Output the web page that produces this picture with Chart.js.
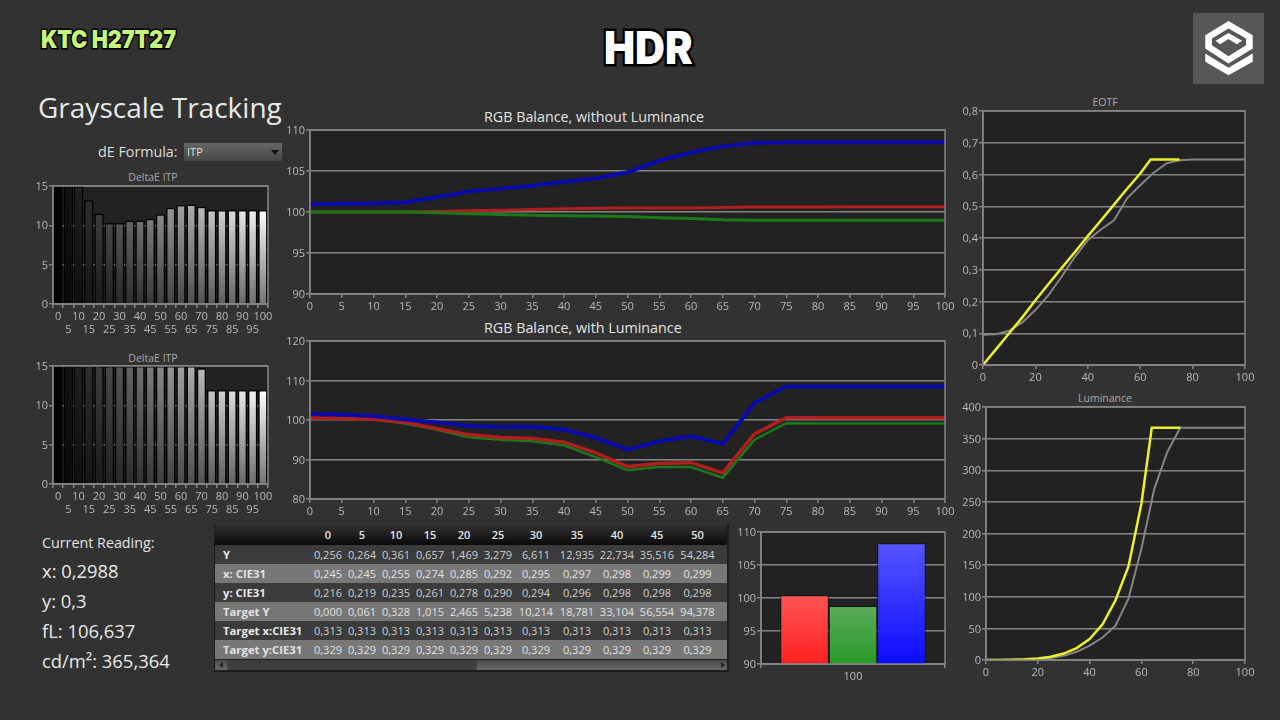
<!DOCTYPE html>
<html>
<head>
<meta charset="utf-8">
<script src="https://cdn.jsdelivr.net/npm/chart.js@4"></script>
<style>
  html, body { margin: 0; padding: 0; }
  body { width: 1280px; height: 720px; background: #323232; overflow: hidden; position: relative;
         font-family: "Open Sans", sans-serif; color: #ddd; }
  canvas, .txt, .box { position: absolute; }
  .txt { white-space: nowrap; line-height: 1; }
  .ctitle { color: #aaa; font-size: 10.5px; transform: translateX(-50%); }
  .rtitle { color: #e4e4e4; font-size: 14.3px; left: 484px; }
  .reading { color: #e8e8e8; font-size: 18.4px; left: 42px; }
  #select { left: 184px; top: 143px; width: 98px; height: 18px; background: linear-gradient(#666, #474747); }
  #select span { position: absolute; left: 3px; top: 3px; font-size: 11px; color: #ddd; line-height: 1.1; }
  #select i { position: absolute; right: 3px; top: 7px; border: 4px solid transparent; border-top: 5px solid #111; border-bottom: 0; }
  #tableWrap { left: 214px; top: 524px; width: 515px; height: 148px; background: #1d1d1d; overflow: hidden; }
  table { border-collapse: collapse; table-layout: fixed; width: 512px; margin-left: 1px; font-size: 11px; }
  th { height: 21px; padding: 0; font-weight: 600; color: #e4e4e4; background: linear-gradient(#333, #0a0a0a); }
  td { height: 19px; padding: 0; text-align: center; color: #d0d0d0; }
  td:first-child { text-align: left; padding-left: 8px; font-weight: 700; font-size: 11.3px; color: #e8e8e8; }
  tr.a td { background: #3b3b3b; }
  tr.b td { background: #777; color: #e2e2e2; }
  #track { left: 215px; top: 660px; width: 512px; height: 10px; background: linear-gradient(#4c4c4c, #686868); }
  #thumb { left: 227px; top: 660px; width: 250px; height: 10px; background: #3e3e3e; border-radius: 3px; }
  .arrow { top: 662px; border: 3px solid transparent; }
</style>
</head>
<body>

<div class="txt" id="model" style="left:41px;top:24px;font:900 25px Inter;color:#c6f57a;-webkit-text-stroke:3px #000;paint-order:stroke fill;transform:scaleX(.86);transform-origin:left">KTC H27T27</div>
<div class="txt" id="mode" style="left:604px;top:20px;font:900 45px Inter;color:#fff;-webkit-text-stroke:5px #000;paint-order:stroke fill;transform:scaleX(.92);transform-origin:left">HDR</div>

<svg class="box" style="left:1193px;top:13px" width="71" height="71" viewBox="38 38 214 214">
  <rect x="38" y="38" width="214" height="214" fill="#575757"/>
  <path d="M145 62 L218 105 V145 L145 190 L75 145 V105 Z" fill="#fff"/>
  <path d="M145 85 L198 115 V135 L145 168 L95 135 V115 Z" fill="#575757"/>
  <path d="M145 98 L186 122 L170 132 L145 116 L120 132 L106 122 Z" fill="#fff"/>
  <path d="M75 160 L145 203 L218 160 V185 L145 226 L75 185 Z" fill="#fff"/>
</svg>

<div class="txt" style="left:38px;top:93px;font-size:28px;color:#e8e8e8">Grayscale Tracking</div>
<div class="txt" style="left:98px;top:145px;font-size:14.3px;color:#ddd">dE Formula:</div>
<div class="box" id="select"><span>ITP</span><i></i></div>

<div class="txt ctitle" style="left:153px;top:172px">DeltaE ITP</div>
<div class="txt ctitle" style="left:153px;top:353px">DeltaE ITP</div>
<div class="txt rtitle" style="top:110px">RGB Balance, without Luminance</div>
<div class="txt rtitle" style="top:321px">RGB Balance, with Luminance</div>
<div class="txt ctitle" style="left:1105px;top:97px">EOTF</div>
<div class="txt ctitle" style="left:1105px;top:393px">Luminance</div>

<div class="txt" style="left:42px;top:536px;font-size:14.3px;color:#e4e4e4">Current Reading:</div>
<div class="txt reading" style="top:562px">x: 0,2988</div>
<div class="txt reading" style="top:592px">y: 0,3</div>
<div class="txt reading" style="top:622px">fL: 106,637</div>
<div class="txt reading" style="top:652px">cd/m²: 365,364</div>

<div class="box" id="tableWrap"><table id="table"></table></div>
<div class="box" id="track"></div>
<div class="box" id="thumb"></div>
<div class="box arrow" style="left:216px;border-right:4px solid #222"></div>
<div class="box arrow" style="left:721px;border-left:4px solid #222"></div>

<canvas id="delta1"></canvas>
<canvas id="delta2"></canvas>
<canvas id="rgb1"></canvas>
<canvas id="rgb2"></canvas>
<canvas id="eotf"></canvas>
<canvas id="lum"></canvas>
<canvas id="bar"></canvas>

<script>
const stim = [0, 5, 10, 15, 20, 25, 30, 35, 40, 45, 50, 55, 60, 65, 70, 75, 80, 85, 90, 95, 100];

// delta E bars, first ones run off the top of the axis
const deltaA = [15, 15, 15, 13.2, 11.5, 10.3, 10.3, 10.6, 10.6, 10.85, 11.4, 12.25, 12.6, 12.65, 12.35, 11.95, 11.95, 11.95, 11.95, 11.95, 11.95];
const deltaB = [15, 15, 15, 15, 15, 15, 15, 15, 15, 15, 15, 15, 15, 15, 14.7, 11.95, 11.95, 11.95, 11.95, 11.95, 11.95];

const noLumRed = [100, 100, 100, 100, 100.05, 100.15, 100.2, 100.3, 100.4, 100.45, 100.5, 100.5, 100.5, 100.55, 100.6, 100.6, 100.6, 100.65, 100.65, 100.65, 100.65];
const noLumGreen = [100, 100, 100, 100, 99.9, 99.8, 99.7, 99.6, 99.55, 99.5, 99.45, 99.3, 99.2, 99.05, 99, 99, 99, 99, 99, 99, 99];
const noLumBlue = [100.93, 101, 101.05, 101.2, 101.8, 102.5, 102.85, 103.2, 103.7, 104.1, 104.85, 106.25, 107.25, 108, 108.45, 108.5, 108.5, 108.5, 108.5, 108.5, 108.5];

const lumRed = [100.5, 100.4, 100.2, 99.4, 97.8, 96.3, 95.6, 95.3, 94.4, 91.7, 88.2, 89, 89.2, 86.6, 96.5, 100.6, 100.6, 100.6, 100.6, 100.6, 100.6];
const lumGreen = [100.4, 100.3, 100.1, 99.1, 97.5, 95.6, 95, 94.6, 93.6, 90.6, 87.3, 88.1, 88.1, 85.4, 95, 99.2, 99.1, 99.1, 99.1, 99.1, 99.1];
const lumBlue = [101.5, 101.4, 101, 100.1, 99.4, 98.5, 98.2, 98.3, 97.6, 95.5, 92.5, 94.6, 95.9, 94, 104.3, 108.5, 108.5, 108.5, 108.5, 108.5, 108.5];

const targetStim = [0, 5, 10, 15, 20, 25, 30, 35, 40, 45, 50, 55, 60, 64, 75];
const eotfTarget = [0, 0.05, 0.1, 0.15, 0.204, 0.255, 0.305, 0.355, 0.406, 0.455, 0.505, 0.555, 0.603, 0.647, 0.647];
const eotfMeasured = [0.095, 0.097, 0.108, 0.134, 0.173, 0.22, 0.278, 0.34, 0.393, 0.427, 0.456, 0.525, 0.566, 0.605, 0.635, 0.645, 0.647, 0.647, 0.647, 0.647, 0.647];

const lumTarget = [0, 0.061, 0.328, 1.015, 2.465, 5.238, 10.214, 18.781, 33.104, 56.554, 94.378, 148, 247, 367, 367];
const lumMeasured = [0.256, 0.264, 0.361, 0.657, 1.469, 3.279, 6.611, 12.935, 22.734, 35.516, 54.284, 97, 176, 271, 329, 367, 367, 367, 367, 367, 367];

const lastRed = [100.4];
const lastGreen = [98.8];
const lastBlue = [108.3];

const tableCols = ['0', '5', '10', '15', '20', '25', '30', '35', '40', '45', '50'];
const tableColWidths = [96, 34, 34, 34, 34, 34, 34, 42, 40, 40, 40, 41, 9];
const rowY = ['0,256', '0,264', '0,361', '0,657', '1,469', '3,279', '6,611', '12,935', '22,734', '35,516', '54,284'];
const rowX = ['0,245', '0,245', '0,255', '0,274', '0,285', '0,292', '0,295', '0,297', '0,298', '0,299', '0,299'];
const rowYc = ['0,216', '0,219', '0,235', '0,261', '0,278', '0,290', '0,294', '0,296', '0,298', '0,298', '0,298'];
const rowTargetY = ['0,000', '0,061', '0,328', '1,015', '2,465', '5,238', '10,214', '18,781', '33,104', '56,554', '94,378'];
const rowTargetX = ['0,313', '0,313', '0,313', '0,313', '0,313', '0,313', '0,313', '0,313', '0,313', '0,313', '0,313'];
const rowTargetYc = ['0,329', '0,329', '0,329', '0,329', '0,329', '0,329', '0,329', '0,329', '0,329', '0,329', '0,329'];

const TICK = '#b9b9b9';
const GRID = '#858585';
const RED = '#b01f1f';
const GREEN = '#1a7a1a';
const BLUE = '#0a0aa8';
const YELLOW = '#eaf02c';
const GREY = '#858585';

Chart.defaults.font.family = '"Open Sans", sans-serif';
Chart.defaults.font.size = 11;
Chart.defaults.color = TICK;
Chart.defaults.animation = false;
Chart.defaults.plugins.legend.display = false;
Chart.defaults.plugins.tooltip.enabled = false;

const M = { left: 40, top: 8, right: 16, bottom: 38 };

const frame = {
  id: 'frame',
  beforeDraw(chart) {
    const { ctx, chartArea: a } = chart;
    ctx.fillStyle = '#222';
    ctx.fillRect(a.left, a.top, a.width, a.height);
  },
  afterDraw(chart) {
    const { ctx, chartArea: a } = chart;
    ctx.strokeStyle = GRID;
    ctx.lineWidth = 1.5;
    ctx.strokeRect(a.left, a.top, a.width, a.height);
  }
};

const pts = (xs, ys) => xs.map((x, i) => ({ x, y: ys[i] }));
const comma = v => String(v).replace('.', ',');

const yAxis = (min, max, step) => ({
  min, max,
  afterFit: s => { s.width = M.left; },
  ticks: { stepSize: step, padding: 1, labelOffset: 1, callback: comma },
  grid: { color: GRID, lineWidth: 1.5, tickLength: 4, tickColor: GRID },
  border: { color: GRID, width: 1.5 }
});

const xLinear = step => ({
  type: 'linear',
  min: 0, max: 100,
  afterFit: s => { s.height = M.bottom; },
  ticks: { stepSize: step, autoSkip: false, maxRotation: 0, padding: 2 },
  grid: { drawOnChartArea: false, color: GRID, lineWidth: 1.5, tickLength: 4 },
  border: { color: GRID, width: 1.5 }
});

function place(id, x, y, w, h) {
  const c = document.getElementById(id);
  c.width = w + M.left + M.right;
  c.height = h + M.top + M.bottom;
  c.style.left = (x - M.left) + 'px';
  c.style.top = (y - M.top) + 'px';
  return c;
}

const opts = scales => ({
  responsive: false,
  layout: { padding: { top: M.top, right: M.right } },
  scales
});

// first dataset ends up on top
function lineChart(id, rect, datasets, xStep, yMin, yMax, yStep) {
  new Chart(place(id, ...rect), {
    type: 'line',
    data: {
      datasets: datasets.map(d => ({
        data: pts(d.xs, d.ys),
        borderColor: d.color,
        borderWidth: d.width,
        pointRadius: 0,
        tension: 0
      }))
    },
    options: opts({ x: xLinear(xStep), y: yAxis(yMin, yMax, yStep) }),
    plugins: [frame]
  });
}

// grey ramp bars, brighter towards the top of each bar
function greyFill(ctx) {
  const { chart, dataIndex: i } = ctx;
  if (!chart.chartArea || !ctx.parsed) return '#000';
  const y = chart.scales.y;
  const top = Math.round(255 * Math.pow(i / 20, 0.9));
  const bottom = Math.round(top * 0.45);
  const g = chart.ctx.createLinearGradient(0, y.getPixelForValue(ctx.parsed.y), 0, y.bottom);
  g.addColorStop(0, `rgb(${top},${top},${top})`);
  g.addColorStop(1, `rgb(${bottom},${bottom},${bottom})`);
  return g;
}

function deltaChart(id, rect, values) {
  new Chart(place(id, ...rect), {
    type: 'bar',
    data: {
      labels: stim,
      datasets: [{
        data: values,
        backgroundColor: greyFill,
        borderColor: '#000',
        borderWidth: 1.5,
        barPercentage: 0.92,
        categoryPercentage: 1
      }]
    },
    options: opts({
      x: {
        afterFit: s => { s.height = M.bottom; },
        ticks: {
          autoSkip: false, maxRotation: 0, padding: 2,
          callback: (v, i) => i % 2 ? ['', String(stim[i])] : String(stim[i])
        },
        grid: { drawOnChartArea: false, color: GRID, lineWidth: 1.5, tickLength: 4, offset: true },
        border: { color: GRID, width: 1.5 }
      },
      y: yAxis(0, 15, 5)
    }),
    plugins: [frame]
  });
}

deltaChart('delta1', [53, 186, 215, 118], deltaA);
deltaChart('delta2', [53, 366, 215, 118], deltaB);

lineChart('rgb1', [310, 130, 635, 164], [
  { xs: stim, ys: noLumBlue, color: BLUE, width: 4 },
  { xs: stim, ys: noLumGreen, color: GREEN, width: 3 },
  { xs: stim, ys: noLumRed, color: RED, width: 3 }
], 5, 90, 110, 5);

lineChart('rgb2', [310, 341, 635, 158], [
  { xs: stim, ys: lumBlue, color: BLUE, width: 4 },
  { xs: stim, ys: lumRed, color: RED, width: 3.5 },
  { xs: stim, ys: lumGreen, color: GREEN, width: 2.5 }
], 5, 80, 120, 10);

lineChart('eotf', [983, 111, 262, 254], [
  { xs: targetStim, ys: eotfTarget, color: YELLOW, width: 2.5 },
  { xs: stim, ys: eotfMeasured, color: GREY, width: 2 }
], 20, 0, 0.8, 0.1);

lineChart('lum', [986, 407, 259, 253], [
  { xs: targetStim, ys: lumTarget, color: YELLOW, width: 2.5 },
  { xs: stim, ys: lumMeasured, color: GREY, width: 2 }
], 20, 0, 400, 50);

// vertical gradient for the last-reading bars
const barFill = (light, dark) => ctx => {
  const { chart } = ctx;
  if (!chart.chartArea || !ctx.parsed) return dark;
  const y = chart.scales.y;
  const g = chart.ctx.createLinearGradient(0, y.getPixelForValue(ctx.parsed.y), 0, y.bottom);
  g.addColorStop(0, light);
  g.addColorStop(1, dark);
  return g;
};
const lastBar = (data, light, dark) => ({
  data,
  backgroundColor: barFill(light, dark),
  borderColor: '#111',
  borderWidth: 1,
  barPercentage: 1,
  categoryPercentage: 0.79
});

new Chart(place('bar', 761, 532, 184, 132), {
  type: 'bar',
  data: {
    labels: ['100'],
    datasets: [
      lastBar(lastRed, '#ff5555', '#ff2020'),
      lastBar(lastGreen, '#5cab5c', '#279a27'),
      lastBar(lastBlue, '#5555ff', '#0c0cff')
    ]
  },
  options: opts({
    x: {
      afterFit: s => { s.height = M.bottom; },
      ticks: { padding: 2 },
      grid: { drawOnChartArea: false, color: GRID, lineWidth: 1.5, tickLength: 4, offset: true },
      border: { color: GRID, width: 1.5 }
    },
    y: yAxis(90, 110, 5)
  }),
  plugins: [frame]
});

// reading table
const tableRows = [
  ['Y', rowY, 'a'],
  ['x: CIE31', rowX, 'b'],
  ['y: CIE31', rowYc, 'a'],
  ['Target Y', rowTargetY, 'b'],
  ['Target x:CIE31', rowTargetX, 'a'],
  ['Target y:CIE31', rowTargetYc, 'b']
];
const colgroup = '<colgroup>' + tableColWidths.map(w => `<col style="width:${w}px">`).join('') + '</colgroup>';
const head = '<tr><th></th>' + tableCols.map(c => `<th>${c}</th>`).join('') + '<th></th></tr>';
const body = tableRows.map(([label, vals, cls]) =>
  `<tr class="${cls}"><td>${label}</td>` + vals.map(v => `<td>${v}</td>`).join('') + '<td></td></tr>'
).join('');
document.getElementById('table').innerHTML = colgroup + head + body;
</script>
</body>
</html>
